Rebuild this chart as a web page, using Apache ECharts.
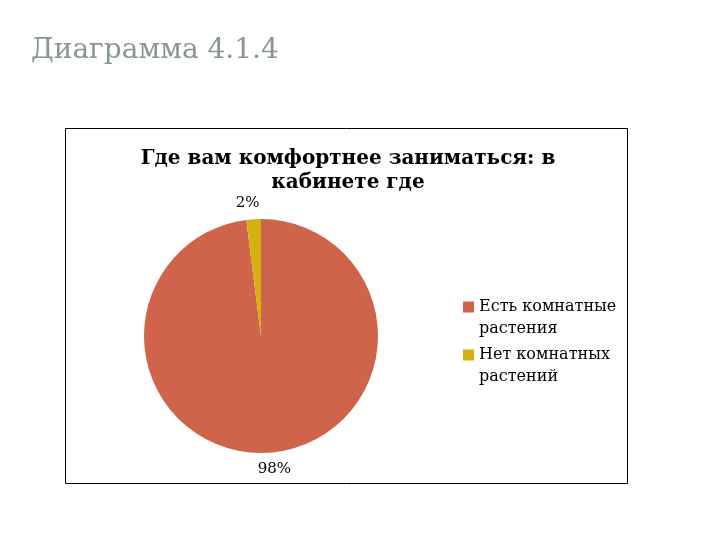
<!DOCTYPE html>
<html>
<head>
<meta charset="utf-8">
<script src="https://cdn.jsdelivr.net/npm/echarts@6/dist/echarts.min.js"></script>
<style>
  html, body { margin: 0; padding: 0; background: #fff; }
  #main { width: 720px; height: 540px; }
</style>
</head>
<body>
<div id="main"></div>
<script>
// данные диаграммы
var categories = ['Есть комнатные растения', 'Нет комнатных растений'];
var legendLabels = ['Есть комнатные\nрастения', 'Нет комнатных\nрастений'];
var values = [98, 2];
var colors = ['#D0644A', '#D3B110'];

var myChart = echarts.init(document.getElementById('main'));

var serif = '"DejaVu Serif", "Liberation Serif", serif';

var option = {
    backgroundColor: '#fff',
    title: [
        {
            text: 'Диаграмма 4.1.4',
            left: 26,
            top: 32,
            textStyle: { fontFamily: serif, fontSize: 28, fontWeight: 'normal', color: '#879696' }
        },
        {
            text: 'Где вам комфортнее заниматься: в\nкабинете где',
            left: 343,
            top: 142,
            textAlign: 'center',
            textStyle: { fontFamily: serif, fontSize: 20, fontWeight: 'bold', color: '#000', lineHeight: 24 }
        }
    ],
    graphic: [
        {
            type: 'rect',
            shape: { x: 65.5, y: 128.5, width: 562, height: 355 },
            style: { fill: 'none', stroke: '#000', lineWidth: 1 },
            z: -1
        }
    ],
    legend: {
        orient: 'vertical',
        left: 458,
        top: 291,
        itemGap: 4,
        itemWidth: 11,
        itemHeight: 33,
        icon: 'path://M0,0h11v11h-11z M0,33',
        data: categories,
        formatter: function (name) {
            return legendLabels[categories.indexOf(name)];
        },
        textStyle: { fontFamily: serif, fontSize: 16, color: '#000', lineHeight: 22 }
    },
    series: [
        {
            type: 'pie',
            center: [261, 336],
            radius: 117,
            startAngle: 90,
            clockwise: true,
            silent: true,
            color: colors,
            label: {
                show: true,
                position: 'outside',
                formatter: '{c}%',
                fontFamily: serif,
                fontSize: 15,
                color: '#000'
            },
            labelLine: { show: false, length: 16, length2: 0 },
            labelLayout: function () {
                return { align: 'center' };
            },
            data: categories.map(function (name, i) {
                return { name: name, value: values[i] };
            })
        }
    ]
};

myChart.setOption(option);
</script>
</body>
</html>
